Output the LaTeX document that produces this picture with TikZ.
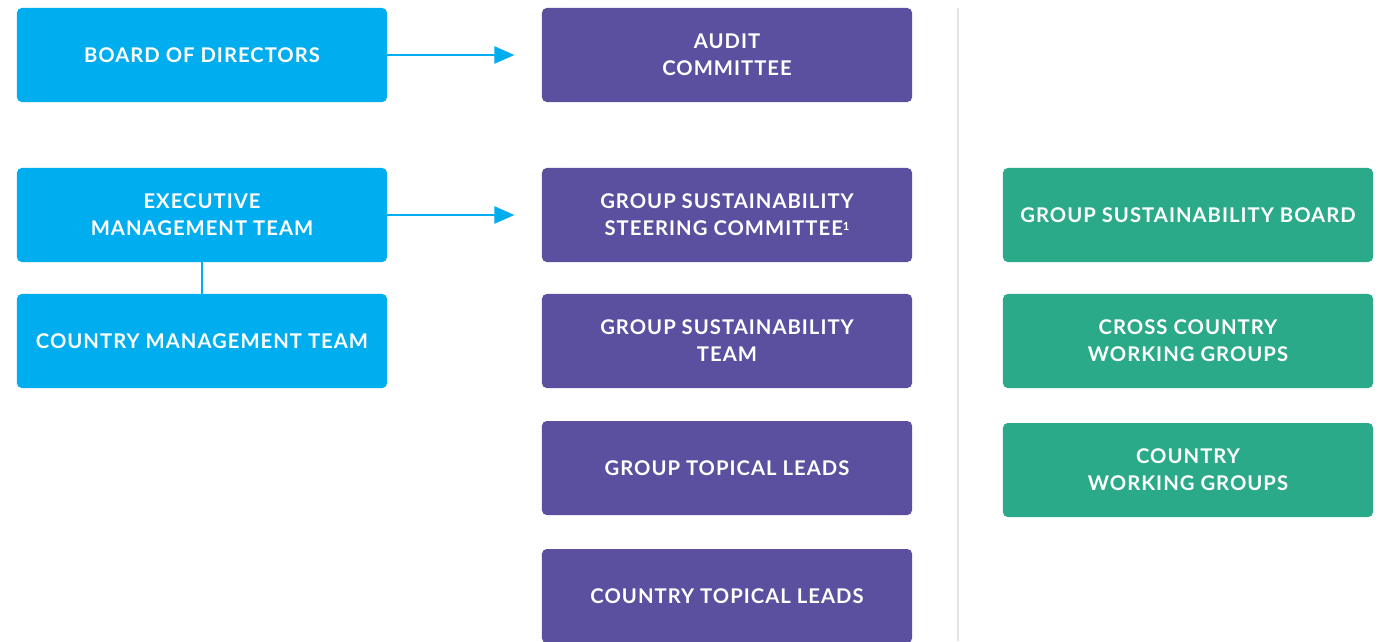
\documentclass[tikz,border=0pt]{standalone}
\usepackage{fontspec}
\setmainfont{Lato}[LetterSpace=5]
\usetikzlibrary{arrows.meta, positioning}

\definecolor{boardblue}{RGB}{0,173,239}
\definecolor{groupviolet}{RGB}{91,80,160}
\definecolor{workgreen}{RGB}{43,170,138}
\definecolor{rulegrey}{RGB}{226,228,234}

\newcommand{\footmark}[1]{\raisebox{0.55ex}{\fontsize{8}{8}\selectfont #1}}

\tikzset{
	unit/.style = {rounded corners=0.12cm, minimum width=9.25cm, minimum height=2.35cm,
		align=center, text=white, inner sep=0pt,
		font=\bfseries\fontsize{14.4}{19.2}\selectfont},
	blueunit/.style = {unit, fill=boardblue},
	violetunit/.style = {unit, fill=groupviolet},
	greenunit/.style = {unit, fill=workgreen},
	reportarrow/.style = {boardblue, line width=2pt, shorten >=0.68cm,
		-{Triangle[length=0.5cm, width=0.42cm]}},
}

\begin{document}
\begin{tikzpicture}[x=0.025cm, y=-0.025cm]
			\clip (0,0) rectangle (1386,641);
			\fill[white] (0,0) rectangle (1386,641);

			% governance bodies on the left
			\node[blueunit] (board) at (202,55) {BOARD OF DIRECTORS};
			\node[blueunit] (exec) at (202,215) {EXECUTIVE\\MANAGEMENT TEAM};
			\node[blueunit] (country) at (202,341) {COUNTRY MANAGEMENT TEAM};

			% committees and leads in the middle
			\node[violetunit] (audit) at (727,55) {AUDIT\\COMMITTEE};
			\node[violetunit] (steering) at (727,215) {GROUP SUSTAINABILITY\\STEERING COMMITTEE\footmark{1}};
			\node[violetunit] (team) at (727,341) {GROUP SUSTAINABILITY\\TEAM};
			\node[violetunit] (grouplead) at (727,468) {GROUP TOPICAL LEADS};
			\node[violetunit] (countrylead) at (727,596) {COUNTRY TOPICAL LEADS};

			% working bodies on the right
			\node[greenunit] (susboard) at (1188,215) {GROUP SUSTAINABILITY BOARD};
			\node[greenunit] (crossgroup) at (1188,341) {CROSS COUNTRY\\WORKING GROUPS};
			\node[greenunit] (countrygroup) at (1188,470) {COUNTRY\\WORKING GROUPS};

			\draw[rulegrey, line width=1.2pt] (958,8) -- (958,641);

			\begin{scope}
				\draw[reportarrow] (board) -- (audit);
				\draw[reportarrow] (exec) -- (steering);
				\draw[boardblue, line width=2pt] (exec) -- (country);
			\end{scope}
		\end{tikzpicture}
\end{document}
